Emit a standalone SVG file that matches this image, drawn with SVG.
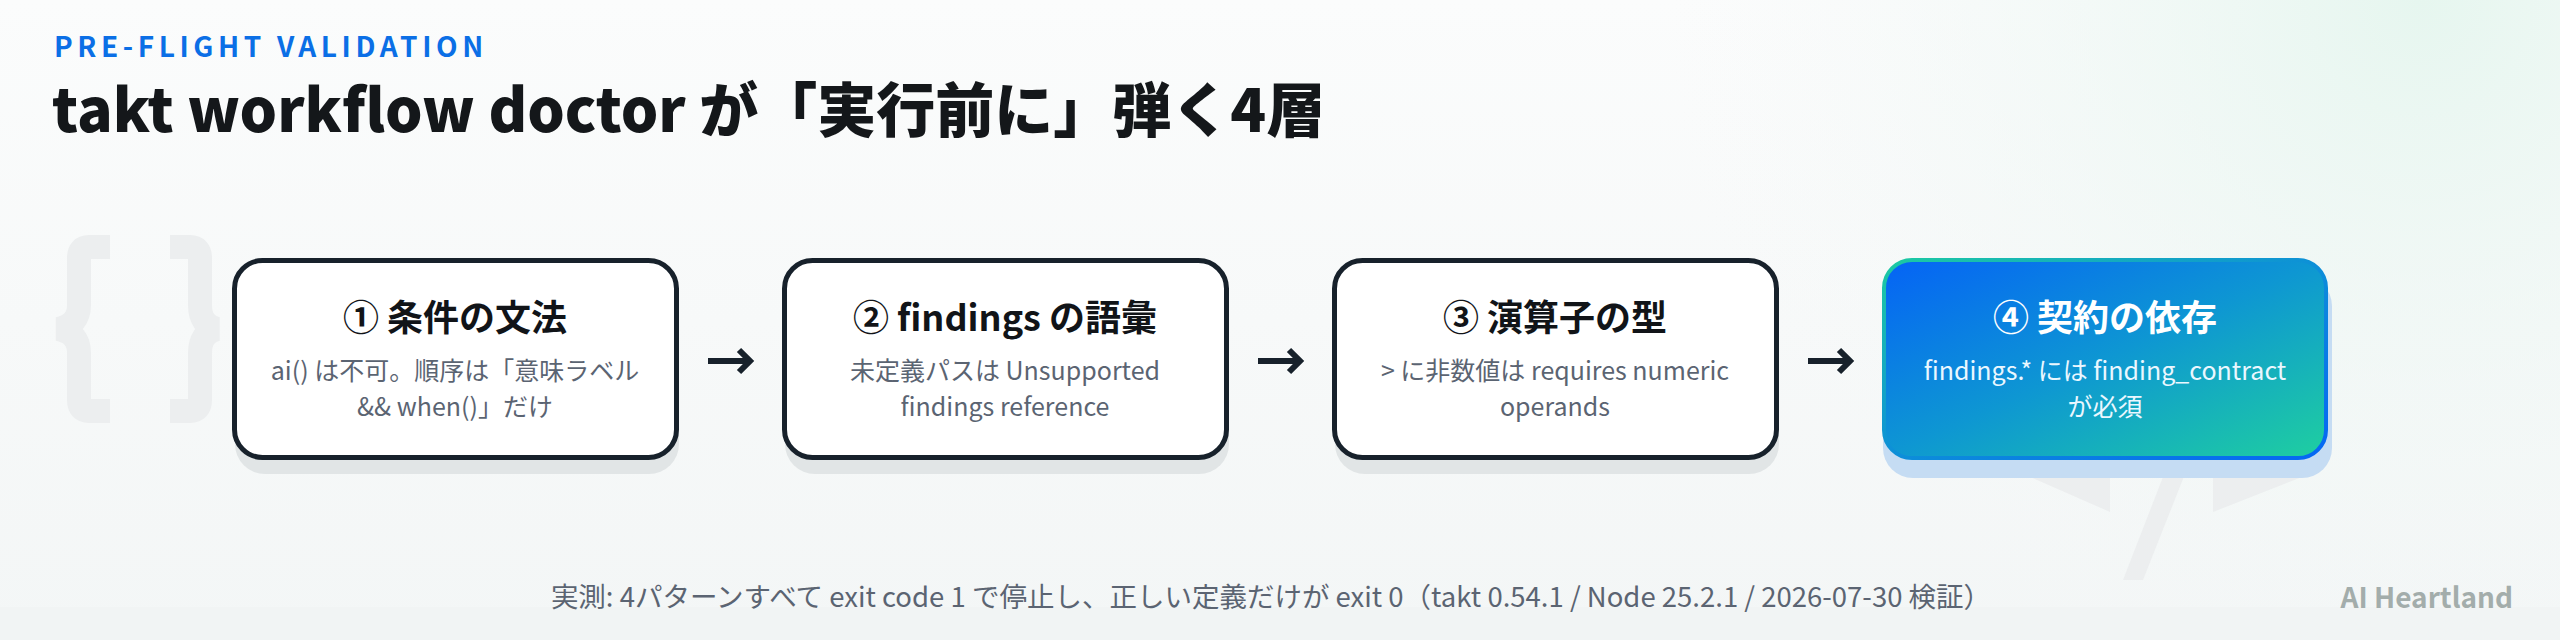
<svg xmlns="http://www.w3.org/2000/svg" width="2560" height="640" viewBox="0 0 2560 640">
  <defs>
    <linearGradient id="bg" x1="0" y1="0" x2="0" y2="1">
      <stop offset="0" stop-color="#fbfcfc"/>
      <stop offset="1" stop-color="#f3f6f6"/>
    </linearGradient>
    <radialGradient id="mint" cx="2420" cy="0" r="750" gradientUnits="userSpaceOnUse">
      <stop offset="0" stop-color="#e6f6ef"/>
      <stop offset="1" stop-color="#f5f8f8" stop-opacity="0"/>
    </radialGradient>
    <linearGradient id="g4" x1="0" y1="0" x2="1" y2="1">
      <stop offset="0" stop-color="#0563f6"/>
      <stop offset="0.5" stop-color="#0e97d2"/>
      <stop offset="1" stop-color="#1fcfa0"/>
    </linearGradient>
    <linearGradient id="g4s" x1="0" y1="0" x2="1" y2="1">
      <stop offset="0" stop-color="#1ccaa2"/>
      <stop offset="0.5" stop-color="#0d8fd8"/>
      <stop offset="1" stop-color="#0566f4"/>
    </linearGradient>
  </defs>
  <style>
    .f { font-family: "Noto Sans CJK JP", "Noto Sans", "Liberation Sans", sans-serif; }
    .box { fill: #ffffff; stroke: #17212b; stroke-width: 5; }
    .shadow { fill: #e1e5e6; }
    .ttl { font-size: 36px; font-weight: 700; fill: #111418; text-anchor: middle; }
    .dsc { font-size: 25px; font-weight: 400; fill: #5b6472; text-anchor: middle; }
    .wt { fill: #ffffff; }
    .wd { fill: #eaf7ff; }
    .conn { stroke: #17212b; stroke-width: 6; fill: none; }
    .deco { fill: none; stroke: #eceeef; stroke-width: 24; }
    .decof { fill: #eceeef; }
  </style>

  <rect width="2560" height="640" fill="url(#bg)"/>
  <rect width="2560" height="640" fill="url(#mint)"/>
  <rect y="607" width="2560" height="33" fill="#f1f4f4"/>

  <g id="decoration">
    <path class="deco" d="M110,247 L89,247 Q79,247 79,258 L79,305 Q79,325 58,329 Q79,333 79,353 L79,400 Q79,411 89,411 L110,411"/>
    <path class="deco" d="M170,247 L190,247 Q200,247 200,258 L200,305 Q200,325 217,329 Q200,333 200,353 L200,400 Q200,411 190,411 L170,411"/>
    <polygon class="decof" points="1960,412 2110,478 2110,512 1960,446"/>
    <polygon class="decof" points="2220,330 2242,330 2143,580 2123,580"/>
    <polygon class="decof" points="2213,478 2320,436 2320,470 2213,512"/>
  </g>

  <text class="f" x="54" y="57" font-size="28" font-weight="700" fill="#0b6fe6" letter-spacing="4.6">PRE-FLIGHT VALIDATION</text>
  <text class="f" x="52" y="132" font-size="59" font-weight="900" fill="#14171a">takt workflow doctor が「実行前に」弾く4層</text>

  <g id="connectors">
    <path class="conn" d="M708,361 H748 M739,350 L750,361 L739,372"/>
    <path class="conn" d="M1258,361 H1298 M1289,350 L1300,361 L1289,372"/>
    <path class="conn" d="M1808,361 H1848 M1839,350 L1850,361 L1839,372"/>
  </g>

  <g id="node1">
    <rect class="shadow" x="235" y="274" width="444" height="200" rx="30"/>
    <rect class="box" x="234.5" y="260.5" width="442" height="197" rx="28"/>
    <text class="f ttl" x="455" y="331">① 条件の文法</text>
    <text class="f dsc" x="455" y="380">ai() は不可。順序は「意味ラベル</text>
    <text class="f dsc" x="455" y="416">&amp;&amp; when()」だけ</text>
  </g>

  <g id="node2">
    <rect class="shadow" x="785" y="274" width="444" height="200" rx="30"/>
    <rect class="box" x="784.5" y="260.5" width="442" height="197" rx="28"/>
    <text class="f ttl" x="1005" y="331">② findings の語彙</text>
    <text class="f dsc" x="1005" y="380">未定義パスは Unsupported</text>
    <text class="f dsc" x="1005" y="416">findings reference</text>
  </g>

  <g id="node3">
    <rect class="shadow" x="1335" y="274" width="444" height="200" rx="30"/>
    <rect class="box" x="1334.5" y="260.5" width="442" height="197" rx="28"/>
    <text class="f ttl" x="1555" y="331">③ 演算子の型</text>
    <text class="f dsc" x="1555" y="380">&gt; に非数値は requires numeric</text>
    <text class="f dsc" x="1555" y="416">operands</text>
  </g>

  <g id="node4">
    <rect x="1883" y="276" width="449" height="202" rx="30" fill="#c5dcf3"/>
    <rect x="1884" y="260" width="442" height="198" rx="28" fill="url(#g4)" stroke="url(#g4s)" stroke-width="4"/>
    <text class="f ttl wt" x="2105" y="331">④ 契約の依存</text>
    <text class="f dsc wd" x="2105" y="380">findings.* には finding_contract</text>
    <text class="f dsc wd" x="2105" y="416">が必須</text>
  </g>

  <text class="f" x="1271" y="607" font-size="27.5" fill="#5b6472" text-anchor="middle">実測: 4パターンすべて exit code 1 で停止し、正しい定義だけが exit 0（takt 0.54.1 / Node 25.2.1 / 2026-07-30 検証）</text>
  <text class="f" x="2513" y="608" font-size="28" font-weight="700" fill="#a3adab" text-anchor="end">AI Heartland</text>
</svg>
